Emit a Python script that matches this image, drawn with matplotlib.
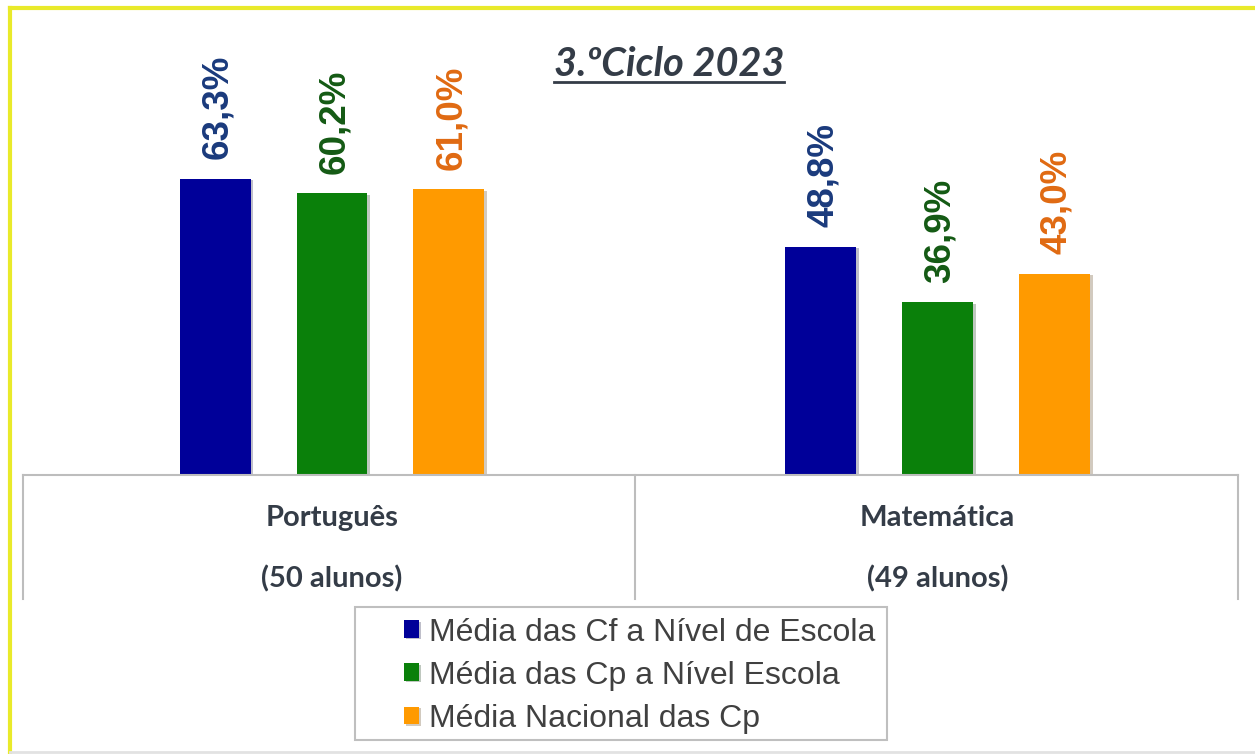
import matplotlib
matplotlib.use("Agg")
import matplotlib.pyplot as plt
from matplotlib.lines import Line2D
from matplotlib.patches import Rectangle
import matplotlib.patheffects as pe
import numpy as np

# ---- data ----
categories = ["Português", "Matemática"]
sublabels = ["(50 alunos)", "(49 alunos)"]
series_names = ["Média das Cf a Nível de Escola",
                "Média das Cp a Nível Escola",
                "Média Nacional das Cp"]
cf_escola = [63.3, 48.8]
cp_escola = [60.2, 36.9]
cp_nacional = [61.0, 43.0]
value_labels = [["63,3%", "48,8%"], ["60,2%", "36,9%"], ["61,0%", "43,0%"]]
title = "3.ºCiclo 2023"

bar_colors = ["#000099", "#0A800A", "#FF9A00"]
label_colors = ["#1A3A7C", "#145A14", "#E06A12"]

W, H = 1255, 754
fig = plt.figure(figsize=(W / 100, H / 100), dpi=100)
fig.patch.set_facecolor("white")

def px(x, y):
    return x / W, 1 - y / H

# axes from x=23..1238, y=20..475 (pixels)
ax_left, ax_right, ax_top, ax_bot = 23, 1238, 20, 475
ax = fig.add_axes([ax_left / W, 1 - ax_bot / H, (ax_right - ax_left) / W, (ax_bot - ax_top) / H])
ax.set_xlim(-0.5103, 1.4963)
ax.set_ylim(0, 97.2)
ax.axis("off")

x = np.arange(len(categories))
width = 0.117
offset = 0.193
series = [cf_escola, cp_escola, cp_nacional]
containers = []
for i, (vals, col) in enumerate(zip(series, bar_colors)):
    bc = ax.bar(x + (i - 1) * offset, vals, width=width, color=col, label=series_names[i],
                path_effects=[pe.SimplePatchShadow(offset=(2, -1), alpha=0.25), pe.Normal()])
    containers.append(bc)
    for j, rect in enumerate(bc):
        ax.annotate(value_labels[i][j],
                    (rect.get_x() + rect.get_width() / 2 + 0.004, rect.get_height()),
                    xytext=(0, 14), textcoords="offset points",
                    rotation=90, ha="center", va="bottom",
                    fontsize=26.5, fontweight="bold", color=label_colors[i],
                    family="Liberation Sans")

# multi-level category axis box
grid_col = "#BDBDBD"
fig.add_artist(Line2D([px(ax_left, 0)[0], px(ax_right, 0)[0]], [px(0, 475)[1]] * 2, color=grid_col, lw=1.5))
for xv in (23, 635, 1238):
    fig.add_artist(Line2D([px(xv, 0)[0]] * 2, [px(0, 475)[1], px(0, 599)[1]], color=grid_col, lw=1.5))

text_col = "#343C47"
for j, cat in enumerate(categories):
    cx = ax.transData.transform((x[j], 0))[0] / W
    fig.text(cx, px(0, 518)[1], cat, ha="center", va="center", fontsize=21,
             fontweight="bold", color=text_col, family="Lato")
    fig.text(cx, px(0, 579)[1], sublabels[j], ha="center", va="center", fontsize=21,
             fontweight="bold", color=text_col, family="Lato")

# title with underline
t = fig.text(px(669, 0)[0], px(0, 64)[1], title, ha="center", va="center", fontsize=28.5,
             fontweight="bold", fontstyle="italic", color=text_col, family="Lato")
fig.canvas.draw()
bb = t.get_window_extent(renderer=fig.canvas.get_renderer())
fig.add_artist(Line2D([bb.x0 / W, bb.x1 / W], [px(0, 82)[1]] * 2, color=text_col, lw=2))

# legend
lx0, ly0, lx1, ly1 = 355, 607, 887, 740
fig.add_artist(Rectangle(px(lx0, ly1), (lx1 - lx0) / W, (ly1 - ly0) / H, fill=False,
                         edgecolor="#BFBFBF", lw=1.5, transform=fig.transFigure))
leg = fig.legend(handles=containers, labels=series_names, loc="upper left",
                 bbox_to_anchor=px(378, 592), frameon=False,
                 handlelength=0.47, handleheight=0.47, handletextpad=0.34,
                 labelspacing=0.41, borderpad=0.3,
                 prop={"family": "Liberation Sans", "size": 23})
for txt in leg.get_texts():
    txt.set_color("#404040")

# yellow frame
ycol = "#E9EA2A"
fig.add_artist(Line2D([px(10, 0)[0]] * 2, [px(0, 8)[1], px(0, 752)[1]], color=ycol, lw=3))
fig.add_artist(Line2D([px(10, 0)[0], 1], [px(0, 8)[1]] * 2, color=ycol, lw=3))
fig.add_artist(Line2D([px(10, 0)[0], 1], [px(0, 752)[1]] * 2, color="#E2E2E2", lw=2))

fig.savefig("out.png", dpi=100, facecolor="white")
